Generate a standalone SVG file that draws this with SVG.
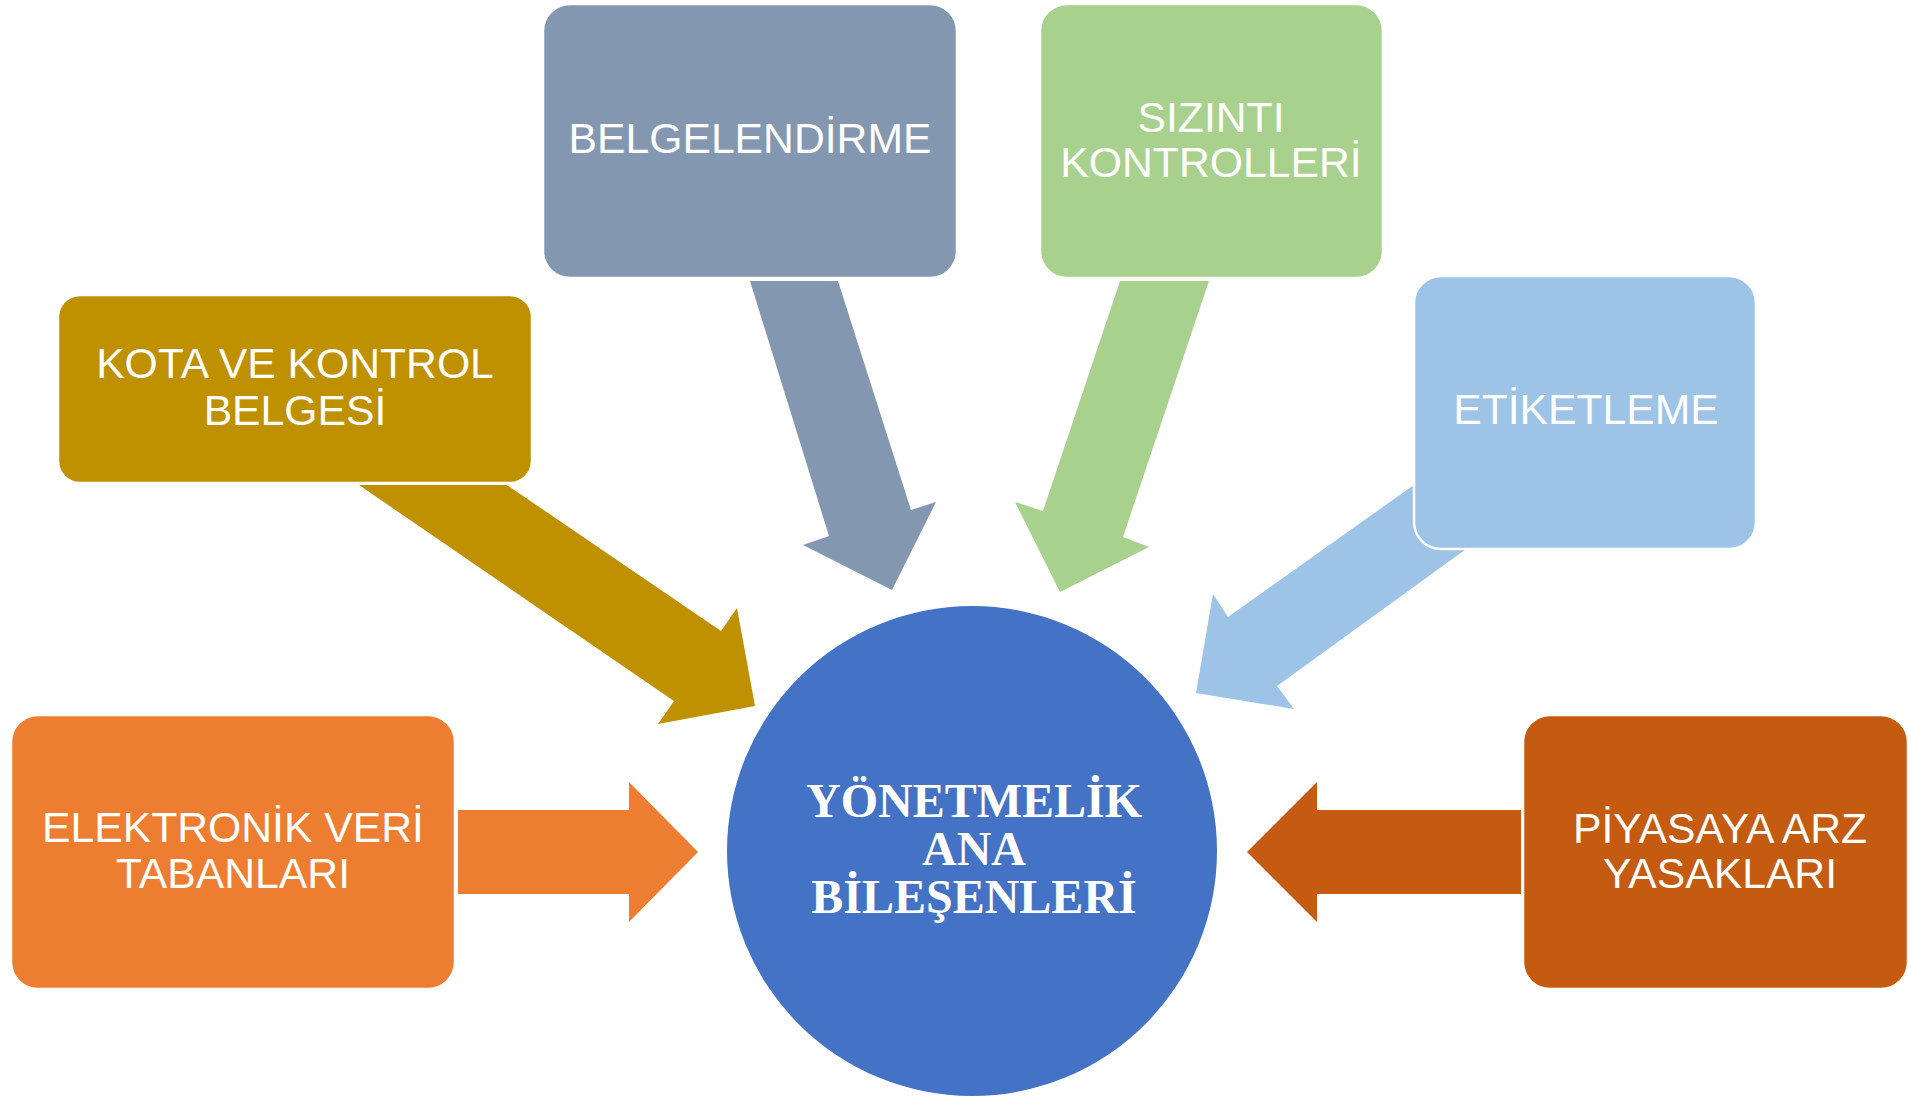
<svg xmlns="http://www.w3.org/2000/svg" width="1908" height="1096" viewBox="0 0 1908 1096">
<style>
.box{stroke:#ffffff;stroke-width:2.5}
.lbl{font-family:"Liberation Sans",Arial,sans-serif;font-size:42.7px;fill:#ffffff;text-anchor:middle}
.ctr{font-family:"Liberation Serif","Times New Roman",serif;font-size:48px;font-weight:bold;fill:#ffffff;text-anchor:middle}
</style>
<rect width="1908" height="1096" fill="#ffffff"/>
<g id="connectors">
<polygon fill="#BF9000" points="359,485 507,485 721,631 737,608 755,706 658,724 674,701"/>
<polygon fill="#8497B0" points="750,281 838,281 911,510 936,502 892,590 803,545 829,536"/>
<polygon fill="#A9D18E" points="1120,281 1209,281 1123,537 1149,547 1060,592 1015,502 1043,511"/>
<polygon fill="#9DC3E6" points="1480,438 1228,617 1213,594 1196,693 1294,709 1277,686 1520,510"/>
<polygon fill="#ED7D31" points="458,810 629,810 629,782 698,852 629,922 629,894 458,894"/>
<polygon fill="#C55A11" points="1521,810 1317,810 1317,782 1247,852 1317,922 1317,894 1521,894"/>
</g>
<g id="center">
<circle cx="972" cy="851" r="245" fill="#4472C4"/>
<text class="ctr"><tspan x="974" y="817">YÖNETMELİK</tspan><tspan x="974" y="865">ANA</tspan><tspan x="974" y="913">BİLEŞENLERİ</tspan></text>
</g>
<g id="belgelendirme">
<rect class="box" x="543" y="4" width="414" height="274" rx="27" fill="#8497B0"/>
<text class="lbl" x="750" y="153">BELGELENDİRME</text>
</g>
<g id="sizinti">
<rect class="box" x="1040" y="4" width="343" height="274" rx="27" fill="#A9D18E"/>
<text class="lbl"><tspan x="1211" y="132">SIZINTI</tspan><tspan x="1211" y="177">KONTROLLERİ</tspan></text>
</g>
<g id="kota">
<rect class="box" x="58" y="295" width="474" height="188" rx="22" fill="#BF9000"/>
<text class="lbl"><tspan x="295" y="378">KOTA VE KONTROL</tspan><tspan x="295" y="425">BELGESİ</tspan></text>
</g>
<g id="etiketleme">
<rect class="box" x="1414" y="276" width="342" height="273" rx="27" fill="#9DC3E6"/>
<text class="lbl" x="1586" y="424">ETİKETLEME</text>
</g>
<g id="elektronik">
<rect class="box" x="11" y="715" width="444" height="274" rx="27" fill="#ED7D31"/>
<text class="lbl"><tspan x="233" y="842">ELEKTRONİK VERİ</tspan><tspan x="233" y="888">TABANLARI</tspan></text>
</g>
<g id="piyasaya">
<rect class="box" x="1523" y="715" width="385" height="274" rx="27" fill="#C55A11"/>
<text class="lbl"><tspan x="1720" y="843">PİYASAYA ARZ</tspan><tspan x="1720" y="888">YASAKLARI</tspan></text>
</g>
</svg>
